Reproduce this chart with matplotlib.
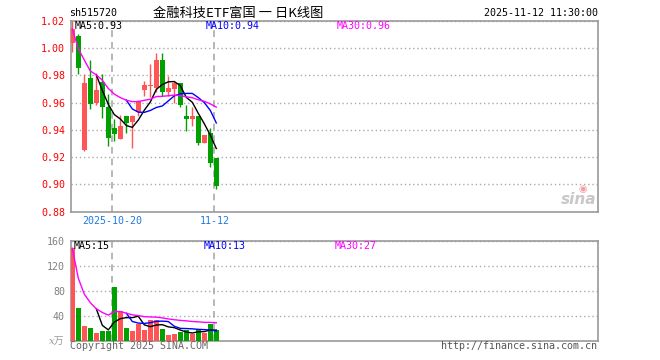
import numpy as np
import pandas as pd
import matplotlib
matplotlib.use("Agg")
import matplotlib.pyplot as plt
import matplotlib.transforms as mtransforms

# daily K-line data (2025-10-09 .. 2025-11-12)
dates = ["10-09", "10-10", "10-13", "10-14", "10-15", "10-16", "10-17", "10-20",
         "10-21", "10-22", "10-23", "10-24", "10-27", "10-28", "10-29", "10-30",
         "10-31", "11-03", "11-04", "11-05", "11-06", "11-07", "11-10", "11-11", "11-12"]
opens = [1.004, 1.009, 0.925, 0.978, 0.960, 0.975, 0.957, 0.941, 0.933, 0.950,
         0.946, 0.953, 0.969, 0.972, 0.971, 0.991, 0.968, 0.970, 0.974, 0.950,
         0.948, 0.950, 0.9305, 0.938, 0.919]
highs = [1.020, 1.010, 0.981, 0.991, 0.982, 0.981, 0.966, 0.948, 0.951, 0.950,
         0.951, 0.962, 0.976, 0.988, 0.996, 0.996, 0.9795, 0.976, 0.974, 0.958,
         0.957, 0.950, 0.9365, 0.941, 0.919]
lows = [0.997, 0.981, 0.9245, 0.955, 0.958, 0.949, 0.928, 0.932, 0.933, 0.938,
        0.927, 0.950, 0.965, 0.964, 0.968, 0.965, 0.965, 0.960, 0.957, 0.939,
        0.943, 0.929, 0.930, 0.913, 0.897]
closes = [1.014, 0.985, 0.9745, 0.959, 0.969, 0.957, 0.934, 0.937, 0.943, 0.945,
          0.950, 0.961, 0.973, 0.973, 0.991, 0.968, 0.971, 0.974, 0.958, 0.948,
          0.950, 0.9305, 0.936, 0.916, 0.899]
volumes = [148, 52, 23.5, 20, 12, 15.5, 15.5, 86, 47.5, 20, 15.5, 26.7, 17,
           33, 33, 18.7, 9, 10.7, 14, 17, 10.7, 18.7, 12.3, 26.7, 17]

price_ticks = [0.88, 0.90, 0.92, 0.94, 0.96, 0.98, 1.00, 1.02]
vol_ticks = [40, 80, 120, 160]
marked_dates = ["10-20", "11-12"]
marked_labels = ["2025-10-20", "11-12"]
price_ma_text = ["MA5:0.93", "MA10:0.94", "MA30:0.96"]
vol_ma_text = ["MA5:15", "MA10:13", "MA30:27"]

RED = "#ff5555"
GREEN = "#00a000"
MA_COLORS = ["#000000", "#0000ff", "#ff00ff"]
BORDER = "#999999"
MONO = ["DejaVu Sans Mono", "Noto Sans CJK SC"]

df = pd.DataFrame({"open": opens, "high": highs, "low": lows,
                   "close": closes, "vol": volumes})
x = np.arange(len(df))
up = df["close"] >= df["open"]
colors = np.where(up, RED, GREEN)

W, H = 660, 360
fig = plt.figure(figsize=(6.6, 3.6), dpi=100)
ax1 = fig.add_axes([70.5 / W, 1 - 211.7 / H, 527 / W, 191 / H])
ax2 = fig.add_axes([70.5 / W, 1 - 340.7 / H, 527 / W, 100 / H])

xlim = (-0.3, -0.3 + 527 / 6)
for ax in (ax1, ax2):
    ax.set_xlim(*xlim)
    ax.set_xticks([])
    for s in ax.spines.values():
        s.set_color(BORDER)
        s.set_linewidth(1.2)
    ax.tick_params(axis="y", length=0, pad=4)
    ax.yaxis.grid(True, color="#aaaaaa", linestyle=(0, (1, 2)), linewidth=1)
    ax.set_axisbelow(True)
    for d in marked_dates:
        ax.axvline(dates.index(d) - 0.33, color="#aaaaaa",
                   linestyle=(0, (4, 3)), linewidth=1.2, zorder=1)

# candles
ax1.vlines(x, df["low"], df["high"], colors=colors, linewidth=1, zorder=2)
body = np.maximum((df["close"] - df["open"]).abs(), 0.0008)
ax1.bar(x, body, bottom=np.minimum(df["open"], df["close"]), width=0.8,
        color=colors, zorder=3)

ma_p = [df["close"].rolling(5).mean(), df["close"].rolling(10).mean(),
        df["close"].rolling(30, min_periods=1).mean()]
for ma, c in zip(ma_p, MA_COLORS):
    ax1.plot(x, ma, color=c, linewidth=1, zorder=4)

ax1.set_ylim(0.88, 1.02)
ax1.set_yticks(price_ticks)
ax1.set_yticklabels([f"{t:.2f}" for t in price_ticks], family=MONO,
                    fontsize=7.2, color="#ff0000")

# volume
ax2.bar(x, df["vol"], width=0.8, color=colors, zorder=3)
ma_v = [df["vol"].rolling(5).mean(), df["vol"].rolling(10).mean(),
        df["vol"].rolling(30, min_periods=1).mean()]
for ma, c in zip(ma_v, MA_COLORS):
    ax2.plot(x, ma, color=c, linewidth=1, zorder=4)
ax2.set_ylim(0, 160)
ax2.set_yticks(vol_ticks)
ax2.set_yticklabels([str(t) for t in vol_ticks], family=MONO,
                    fontsize=7.2, color="#808080")

# MA legends inside panels
for txt, c, px in zip(price_ma_text, MA_COLORS, [75, 206, 337]):
    fig.text(px / W, 1 - 26.3 / H, txt, color=c, family=MONO,
             fontsize=7.2, va="center")
for txt, c, px in zip(vol_ma_text, MA_COLORS, [74, 204, 335]):
    fig.text(px / W, 1 - 246 / H, txt, color=c, family=MONO,
             fontsize=7.2, va="center")

# date labels under the price panel
trans = mtransforms.blended_transform_factory(ax1.transData, fig.transFigure)
for d, lab in zip(marked_dates, marked_labels):
    ax1.text(dates.index(d) - 0.33, 1 - 220.5 / H, lab, transform=trans,
             ha="center", va="center", color="#1f78e0", family=MONO,
             fontsize=7.2)

# header
fig.text(69 / W, 1 - 13.3 / H, "sh515720", family=MONO, fontsize=7.2,
         va="center")
fig.text(238 / W, 1 - 13.3 / H, "金融科技ETF富国 一 日K线图",
         family=["Noto Sans CJK SC", "DejaVu Sans"], fontsize=9.5,
         ha="center", va="center")
fig.text(598 / W, 1 - 13.3 / H, "2025-11-12 11:30:00", family=MONO,
         fontsize=7.2, ha="right", va="center")

# footer
fig.text(49 / W, 1 - 341 / H, "x万", family=["DejaVu Serif", "Noto Sans CJK SC"],
         style="italic", fontsize=7.2, color="#999999", va="center")
fig.text(70 / W, 1 - 346 / H, "Copyright 2025 SINA.COM", family=MONO,
         fontsize=7.2, color="#666666", va="center")
fig.text(597 / W, 1 - 346 / H, "http://finance.sina.com.cn", family=MONO,
         fontsize=7.2, color="#555555", ha="right", va="center")

# sina watermark
fig.text(596 / W, 1 - 200 / H, "sina", family="DejaVu Sans", style="italic",
         weight="bold", fontsize=11, color="#c8c8c8", ha="right", va="center")
fig.text(583 / W, 1 - 189 / H, "◉", family="DejaVu Sans", fontsize=7,
         color="#f4a0a0", ha="center", va="center")

fig.savefig("out.png", dpi=100, facecolor="white")
